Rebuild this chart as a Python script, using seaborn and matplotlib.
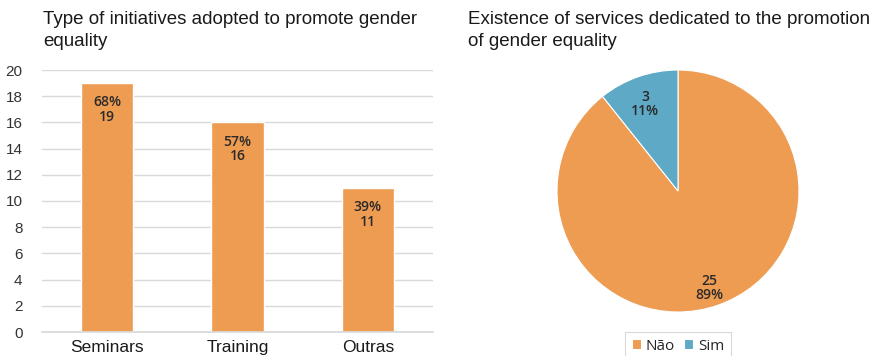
import matplotlib
matplotlib.use("Agg")
import matplotlib.pyplot as plt
import seaborn as sns
import pandas as pd

# Bar chart data
initiatives = ["Seminars", "Training", "Outras"]
initiative_counts = [19, 16, 11]
initiative_pcts = ["68%", "57%", "39%"]

# Pie chart data
service_labels = ["Não", "Sim"]
service_counts = [25, 3]
service_pcts = ["89%", "11%"]

ORANGE = "#EE9C52"
BLUE = "#5DA9C6"
LABEL_FONT = ["Open Sans", "DejaVu Sans"]

sns.set_theme(style="white")
plt.rcParams["font.family"] = ["Liberation Sans", "DejaVu Sans"]

fig = plt.figure(figsize=(8.82, 3.56), dpi=100)
W, H = 882, 356

# ---- Bar chart ----
ax = fig.add_axes([42 / W, 1 - 332 / H, (433 - 42) / W, (332 - 70) / H])
df = pd.DataFrame({"initiative": initiatives, "count": initiative_counts})
sns.barplot(data=df, x="initiative", y="count", color=ORANGE, saturation=1,
            width=0.4, ax=ax)
ax.set_ylim(0, 20)
ax.set_yticks(range(0, 21, 2))
ax.set_xlim(-0.5, 2.5)
ax.yaxis.grid(True, color="#D9D9D9", linewidth=1)
ax.set_axisbelow(True)
for s in ax.spines.values():
    s.set_visible(False)
ax.spines["bottom"].set_visible(True)
ax.spines["bottom"].set_color("#D9D9D9")
ax.set_xlabel("")
ax.set_ylabel("")
ax.tick_params(axis="y", labelsize=11, colors="#333333", pad=14, length=0)
ax.tick_params(axis="x", labelsize=12.5, colors="#1a1a1a", pad=6, length=0)
for i, (c, p) in enumerate(zip(initiative_counts, initiative_pcts)):
    ax.annotate(f"{p}\n{c}", xy=(i, c), xytext=(0, -19), textcoords="offset points",
                ha="center", va="center", fontsize=10, color="#2a2a2a",
                family=LABEL_FONT, fontweight="semibold", linespacing=1.05)

fig.text(43 / W, 1 - 11 / H, "Type of initiatives adopted to promote gender\nequality",
         ha="left", va="top", fontsize=13.5, color="#1a1a1a", linespacing=1.4)

# ---- Pie chart ----
R = 121
pax = fig.add_axes([(678 - R) / W, 1 - (191 + R) / H, 2 * R / W, 2 * R / H])
wedges, _ = pax.pie(service_counts, colors=[ORANGE, BLUE], startangle=90,
                    counterclock=False, radius=1,
                    wedgeprops=dict(edgecolor="white", linewidth=0.8))
pax.set_xlim(-1, 1)
pax.set_ylim(-1, 1)
pax.set_aspect("equal")
pax.text(0.26, -0.8, f"{service_counts[0]}\n{service_pcts[0]}", ha="center", va="center",
         fontsize=10, color="#2a2a2a", family=LABEL_FONT, fontweight="semibold",
         linespacing=1.05)
pax.text(-0.27, 0.72, f"{service_counts[1]}\n{service_pcts[1]}", ha="center", va="center",
         fontsize=10, color="#2a2a2a", family=LABEL_FONT, fontweight="semibold",
         linespacing=1.05)

fig.text(468 / W, 1 - 11 / H, "Existence of services dedicated to the promotion\nof gender equality",
         ha="left", va="top", fontsize=13.5, color="#1a1a1a", linespacing=1.4)

leg = fig.legend(wedges, service_labels, loc="center", bbox_to_anchor=(678 / W, 1 - 346 / H),
                 ncol=2, frameon=True, handlelength=0.6, handleheight=0.6,
                 handletextpad=0.3, columnspacing=0.6, borderpad=0.25,
                 prop={"family": LABEL_FONT, "size": 11})
leg.get_frame().set_edgecolor("#D0D0D0")
leg.get_frame().set_linewidth(0.8)
leg.get_frame().set_boxstyle("square", pad=0.2)

fig.savefig("out.png", dpi=100, facecolor="white")
